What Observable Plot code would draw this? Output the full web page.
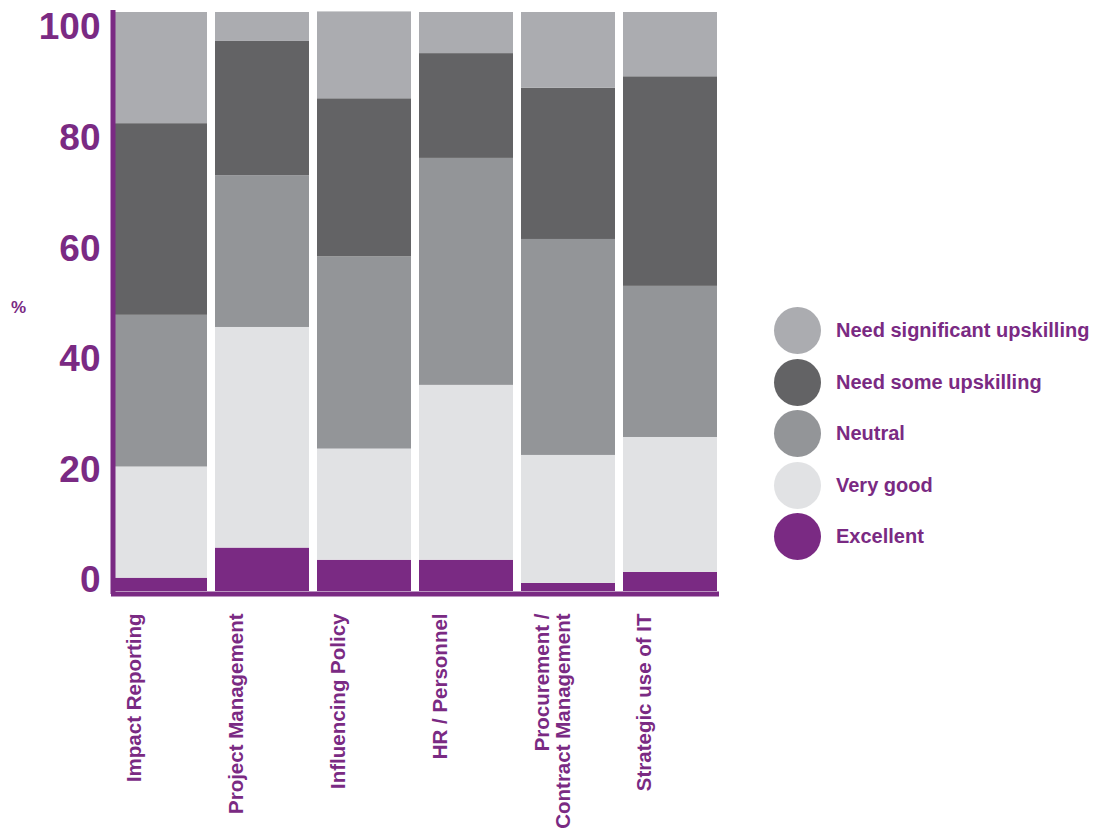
<!DOCTYPE html>
<html>
<head>
<meta charset="utf-8">
<script src="https://cdn.jsdelivr.net/npm/d3@7"></script>
<script src="https://cdn.jsdelivr.net/npm/@observablehq/plot@0.6"></script>
<style>
  html, body { margin: 0; padding: 0; background: #fff; }
  body { width: 1093px; height: 831px; position: relative; overflow: hidden; font-family: "Liberation Sans", Arial, sans-serif; }
  #chart, #labels { position: absolute; left: 0; top: 0; }
  #pct { position: absolute; left: 11px; top: 298px; font-size: 17px; font-weight: bold; color: #7a2a83; }
  #legend { position: absolute; left: 774px; top: 305px; }
  .item { display: flex; align-items: center; height: 51.5px; }
  .dot { width: 47px; height: 47px; border-radius: 50%; margin-right: 15px; }
  .lab { font-size: 20px; font-weight: bold; color: #7a2a83; white-space: nowrap; }
</style>
</head>
<body>
<div id="chart"></div>
<div id="labels"></div>
<div id="pct">%</div>
<div id="legend"></div>
<script>
const categories = ["Impact Reporting", "Project Management", "Influencing Policy", "HR / Personnel", "Procurement /\nContract Management", "Strategic use of IT"];
const ratings = ["Excellent", "Very good", "Neutral", "Need some upskilling", "Need significant upskilling"];
const ratingColors = ["#7a2a83", "#e1e2e4", "#939598", "#636365", "#abacb0"];
const excellent       = [2.3, 7.5, 5.4, 5.4, 1.4, 3.3];
const veryGood        = [19.2, 38.1, 19.2, 30.2, 22.1, 23.3];
const neutral         = [26.2, 26.2, 33.2, 39.2, 37.3, 26.1];
const needSome        = [33.1, 23.2, 27.3, 18.1, 26.1, 36.2];
const needSignificant = [19.2, 5.0, 15.0, 7.1, 13.1, 11.1];
const yTicks = [0, 20, 40, 60, 80, 100];
const legendOrder = ["Need significant upskilling", "Need some upskilling", "Neutral", "Very good", "Excellent"];

const series = [excellent, veryGood, neutral, needSome, needSignificant];
const data = [];
categories.forEach((c, i) => {
  ratings.forEach((r, j) => data.push({category: c, rating: r, value: series[j][i]}));
});

const purple = "#7a2a83";
const font = "'Liberation Sans', Arial, sans-serif";

const chart = Plot.plot({
  width: 730,
  height: 831,
  marginLeft: 111,
  marginRight: 11,
  marginTop: 12,
  marginBottom: 240,
  style: {fontFamily: font, color: purple, background: "transparent"},
  x: {domain: categories, paddingInner: 0.075, paddingOuter: 0, axis: null},
  y: {domain: [0, 100], axis: null},
  color: {domain: ratings, range: ratingColors},
  marks: [
    Plot.barY(data, {x: "category", y: "value", fill: "rating", order: ratings}),
    Plot.ruleY([0], {stroke: purple, strokeWidth: 5, dy: 2.5}),
    Plot.frame({anchor: "left", stroke: purple, strokeWidth: 5, dx: 1.5}),
    Plot.text(categories, {x: d => d, frameAnchor: "bottom", dy: 22, dx: -35, rotate: -90, textAnchor: "end", lineAnchor: "top", fontSize: 20.5, fontWeight: "bold", fill: purple, lineHeight: 1.05})
  ]
});
document.getElementById("chart").appendChild(chart);

// Y tick labels, laid out as in the reference (slightly tighter spacing than the bars' grid)
const labels = Plot.plot({
  width: 730,
  height: 831,
  marginLeft: 129,
  marginRight: 155,
  marginTop: 27,
  marginBottom: 251,
  style: {fontFamily: font, color: purple, background: "transparent"},
  x: {axis: null},
  y: {domain: [0, 100], axis: null},
  marks: [
    Plot.axisY({ticks: yTicks, tickSize: 0, tickPadding: 10, dx: -19, fontSize: 37, fontWeight: "bold", fill: purple, label: null})
  ]
});
document.getElementById("labels").appendChild(labels);

const legend = document.getElementById("legend");
legendOrder.forEach(r => {
  const item = document.createElement("div");
  item.className = "item";
  const dot = document.createElement("div");
  dot.className = "dot";
  dot.style.background = ratingColors[ratings.indexOf(r)];
  const lab = document.createElement("div");
  lab.className = "lab";
  lab.textContent = r;
  item.appendChild(dot);
  item.appendChild(lab);
  legend.appendChild(item);
});
</script>
</body>
</html>
